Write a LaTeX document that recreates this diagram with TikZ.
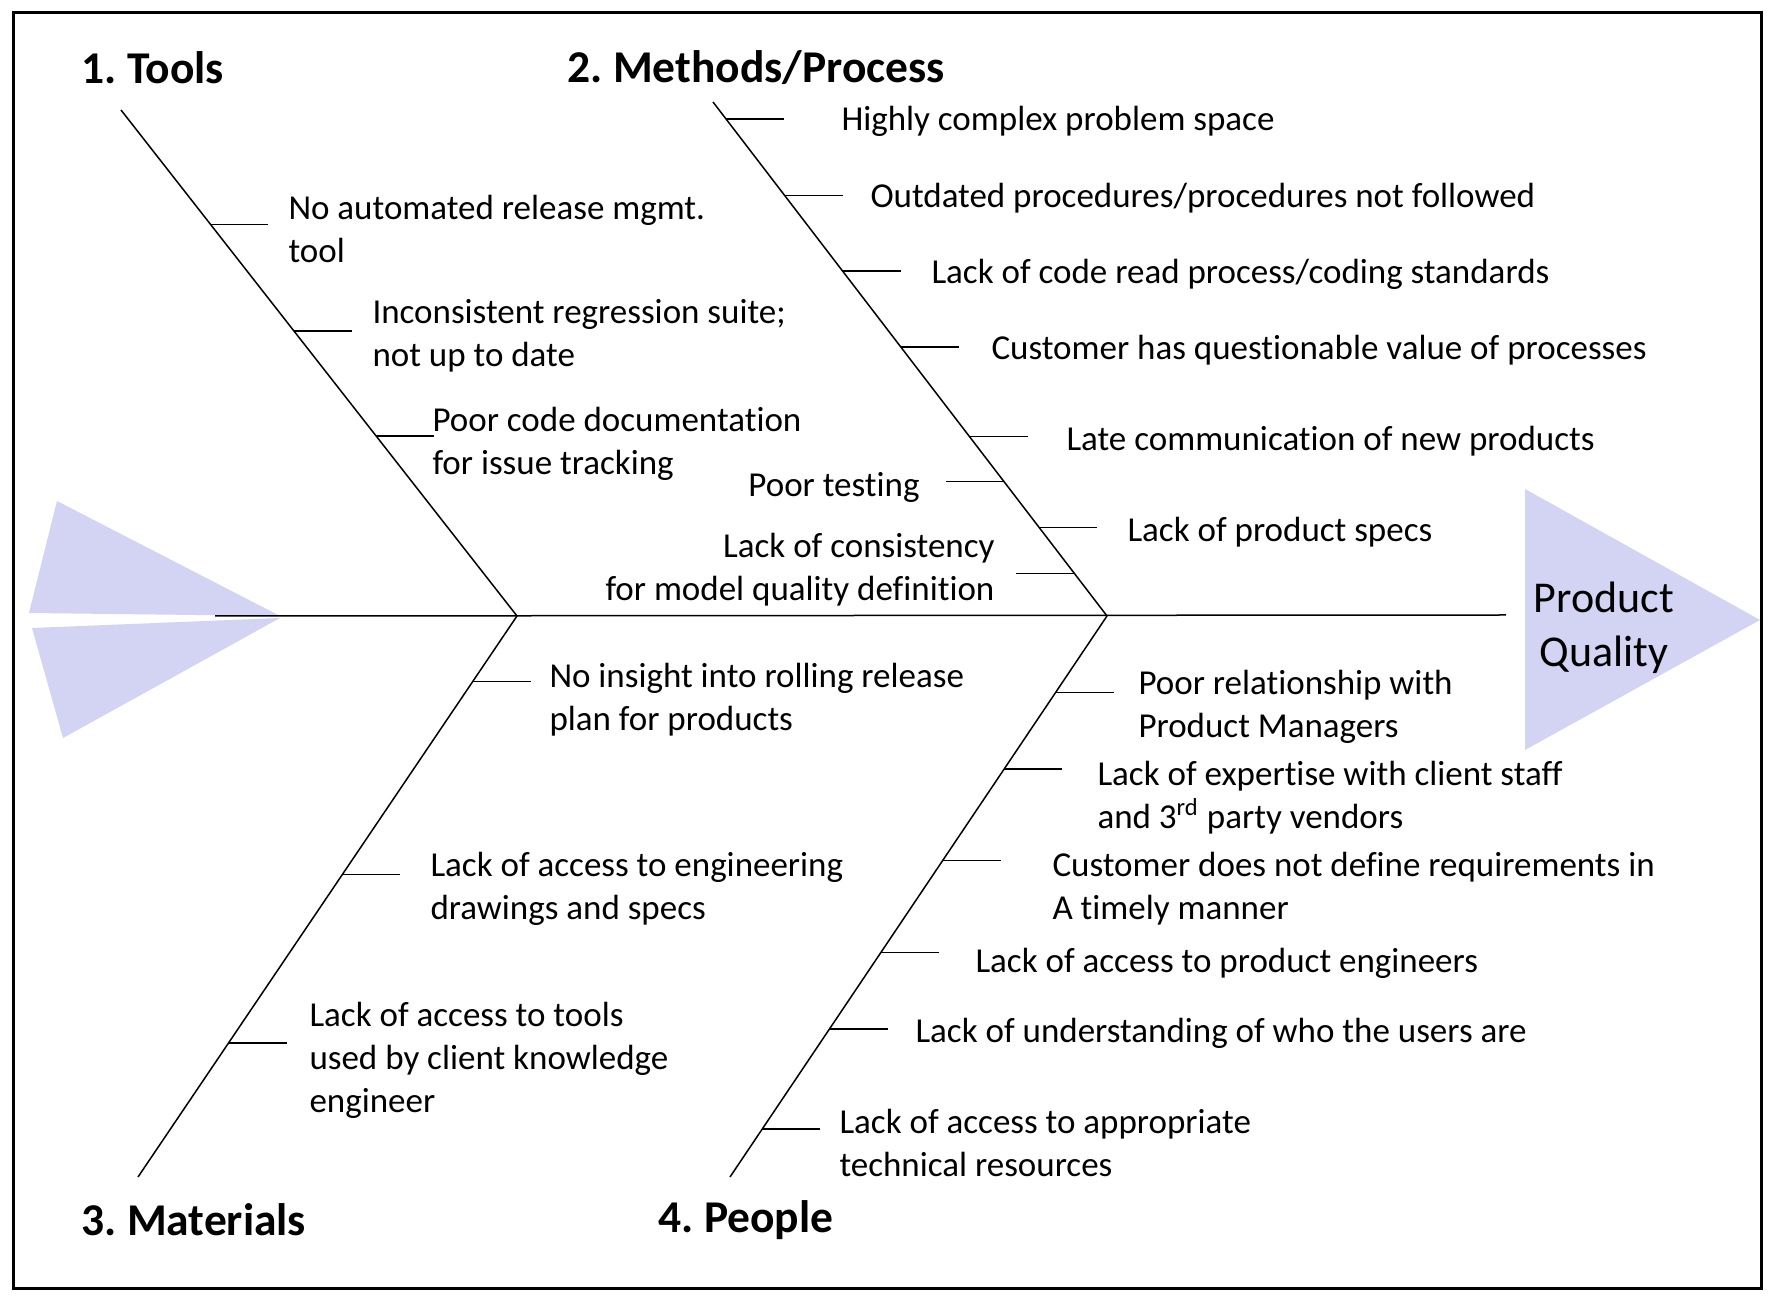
\documentclass[tikz,border=0pt]{standalone}
\usepackage{fontspec}
\setmainfont{Carlito}[Ligatures=NoCommon]
\usetikzlibrary{calc}
\definecolor{fishfill}{RGB}{211,211,243}
\frenchspacing

\begin{document}
\begin{tikzpicture}[x=0.4pt, y=-0.4pt,
    cause/.style={anchor=west, align=left, inner sep=0pt, yshift=-1pt, font=\fontsize{14}{17.2}\selectfont},
    causeL/.style={cause, anchor=east, align=right},
    heading/.style={anchor=west, inner sep=0pt, font=\fontsize{18.2}{22}\selectfont\bfseries},
    bone/.style={line width=0.6pt},
    rib/.style={line width=0.6pt}
]
\useasboundingbox (0,0) rectangle (1775,1297);
\draw[line width=1.2pt] (13,13) rectangle (1761,1288);

\fill[fishfill] (57,501) -- (29,613) -- (280,616) -- cycle;
\fill[fishfill] (32,628) -- (63,738) -- (280,618) -- cycle;
\fill[fishfill] (1525,489) -- (1525,750) -- (1760,620) -- cycle;
\node[align=center, inner sep=0pt, font=\fontsize{17.6}{21.6}\selectfont] (pq) at (1604,628) {Product\\Quality};

\coordinate (tail) at (215,616);
\coordinate (head) at (1506,615);
\coordinate (j1) at (517,616);
\coordinate (j2) at (1107,616);
\coordinate (tools) at (121,110);
\coordinate (meth) at (713,102);
\coordinate (mat) at (138,1177);
\coordinate (ppl) at (730,1177);

\draw[bone] (tail) -- (head);
\draw[bone] (tools) -- (j1);
\draw[bone] (meth) -- (j2);
\draw[bone] (j1) -- (mat);
\draw[bone] (j2) -- (ppl);

\node[heading] (h1) at (81,68) {1. Tools};
\node[heading] (h2) at (567,68) {2. Methods/Process};
\node[heading] (h3) at (81,1220) {3. Materials};
\node[heading] (h4) at (658,1220) {4. People};

\node[cause] (t1) at (288,226) {No automated release mgmt.\\tool};
\node[cause] (t2) at (372,333) {Inconsistent regression suite;\\not up to date};
\node[cause] (t3) at (432,441) {Poor code documentation\\for issue tracking};
\draw[rib] ($(tools)!0.226!(j1)$) -- ++(58,0);
\draw[rib] ($(tools)!0.437!(j1)$) -- ++(58,0);
\draw[rib] ($(tools)!0.644!(j1)$) -- ++(58,0);

\node[cause] (m1) at (841,119) {Highly complex problem space};
\node[cause] (m2) at (870,196) {Outdated procedures/procedures not followed};
\node[cause] (m3) at (931,272) {Lack of code read process/coding standards};
\node[cause] (m4) at (991,348) {Customer has questionable value of processes};
\node[cause] (m5) at (1066,439) {Late communication of new products};
\node[cause] (m6) at (1127,530) {Lack of product specs};
\node[causeL] (m7) at (920,485) {Poor testing};
\node[causeL] (m8) at (995,567) {Lack of consistency\\for model quality definition};
\draw[rib] ($(meth)!0.033!(j2)$) -- ++(58,0);
\draw[rib] ($(meth)!0.182!(j2)$) -- ++(58,0);
\draw[rib] ($(meth)!0.329!(j2)$) -- ++(58,0);
\draw[rib] ($(meth)!0.477!(j2)$) -- ++(58,0);
\draw[rib] ($(meth)!0.651!(j2)$) -- ++(58,0);
\draw[rib] ($(meth)!0.828!(j2)$) -- ++(58,0);
\draw[rib] ($(meth)!0.738!(j2)$) -- ++(-58,0);
\draw[rib] ($(meth)!0.917!(j2)$) -- ++(-58,0);

\node[cause] (a1) at (549,697) {No insight into rolling release\\plan for products};
\node[cause] (a2) at (430,886) {Lack of access to engineering\\drawings and specs};
\node[cause] (a3) at (309,1058) {Lack of access to tools\\used by client knowledge\\engineer};
\draw[rib] ($(j1)!0.117!(mat)$) -- ++(58,0);
\draw[rib] ($(j1)!0.461!(mat)$) -- ++(58,0);
\draw[rib] ($(j1)!0.761!(mat)$) -- ++(58,0);

\node[cause] (p1) at (1138,704) {Poor relationship with\\Product Managers};
\node[cause] (p2) at (1097,795) {Lack of expertise with client staff\\and 3\textsuperscript{rd} party vendors};
\node[cause] (p3) at (1052,886) {Customer does not define requirements in\\A timely manner};
\node[cause] (p4) at (975,961) {Lack of access to product engineers};
\node[cause] (p5) at (915,1031) {Lack of understanding of who the users are};
\node[cause] (p6) at (839,1140) {Lack of access to appropriate\\technical resources};
\draw[rib] ($(j2)!0.136!(ppl)$) -- ++(58,0);
\draw[rib] ($(j2)!0.273!(ppl)$) -- ++(58,0);
\draw[rib] ($(j2)!0.436!(ppl)$) -- ++(58,0);
\draw[rib] ($(j2)!0.600!(ppl)$) -- ++(58,0);
\draw[rib] ($(j2)!0.736!(ppl)$) -- ++(58,0);
\draw[rib] ($(j2)!0.914!(ppl)$) -- ++(58,0);
\end{tikzpicture}
\end{document}
